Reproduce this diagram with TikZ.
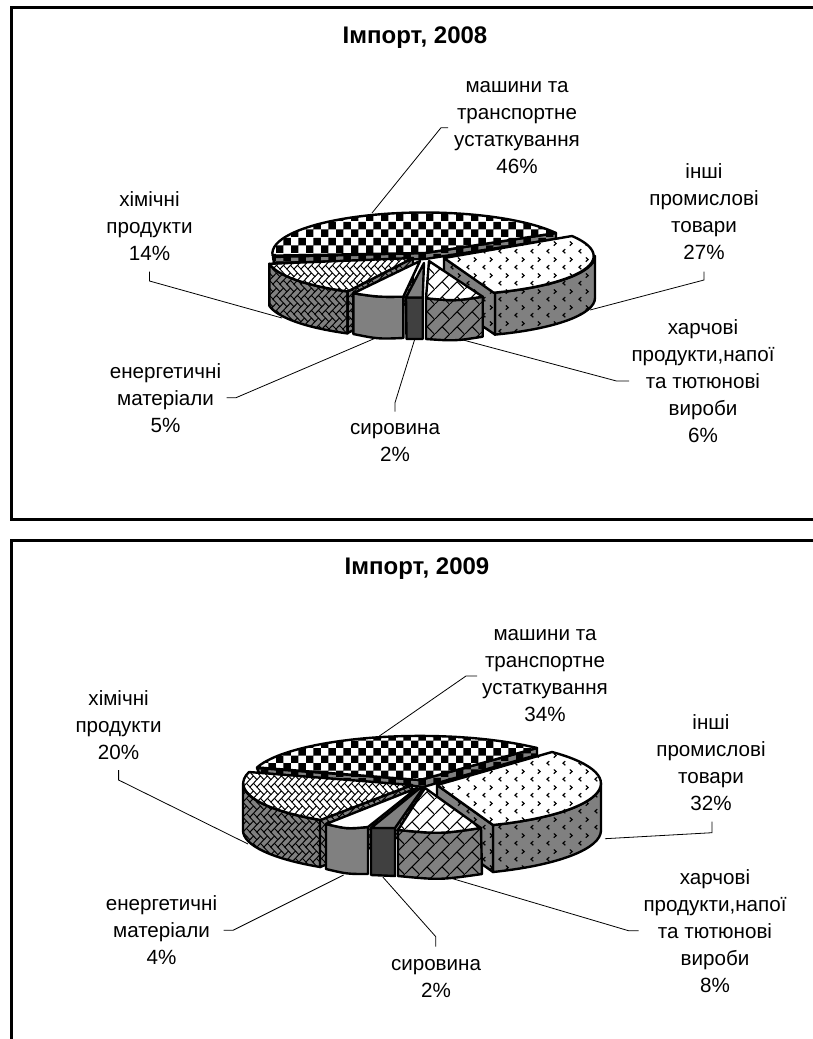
\documentclass[tikz,border=0pt]{standalone}
\usepackage{fontspec}
\setmainfont{Liberation Sans}
\usetikzlibrary{patterns}
\pgfdeclarepatternformonly{chk}{\pgfqpoint{0pt}{0pt}}{\pgfqpoint{15.4pt}{15.4pt}}{\pgfqpoint{15.4pt}{15.4pt}}{%
  \pgfpathrectangle{\pgfqpoint{0pt}{0pt}}{\pgfqpoint{7.7pt}{7.7pt}}%
  \pgfpathrectangle{\pgfqpoint{7.7pt}{7.7pt}}{\pgfqpoint{7.7pt}{7.7pt}}%
  \pgfusepath{fill}}
\pgfdeclarepatternformonly{chev}{\pgfqpoint{0pt}{0pt}}{\pgfqpoint{16pt}{16pt}}{\pgfqpoint{16pt}{16pt}}{%
  \pgfsetlinewidth{1.25pt}%
  \pgfpathmoveto{\pgfqpoint{5.6pt}{6.2pt}}\pgfpathlineto{\pgfqpoint{3.2pt}{4pt}}\pgfpathlineto{\pgfqpoint{5.6pt}{1.8pt}}%
  \pgfpathmoveto{\pgfqpoint{10.4pt}{14.2pt}}\pgfpathlineto{\pgfqpoint{12.8pt}{12pt}}\pgfpathlineto{\pgfqpoint{10.4pt}{9.8pt}}%
  \pgfusepath{stroke}}
\pgfdeclarepatternformonly{brk}{\pgfqpoint{0pt}{0pt}}{\pgfqpoint{15pt}{15pt}}{\pgfqpoint{15pt}{15pt}}{%
  \pgfsetlinewidth{1.1pt}%
  \pgfpathmoveto{\pgfqpoint{-1pt}{-1pt}}\pgfpathlineto{\pgfqpoint{16pt}{16pt}}%
  \pgfpathmoveto{\pgfqpoint{7.5pt}{7.5pt}}\pgfpathlineto{\pgfqpoint{15pt}{0pt}}%
  \pgfusepath{stroke}}
\newcommand\hbseg[4]{\pgfpathmoveto{\pgfpoint{(#1+\hi)*3.7pt}{(#2+\hj)*3.7pt}}\pgfpathlineto{\pgfpoint{(#3+\hi)*3.7pt}{(#4+\hj)*3.7pt}}}
\pgfdeclarepatternformonly{hbone}{\pgfqpoint{0pt}{0pt}}{\pgfqpoint{7.4pt}{14.8pt}}{\pgfqpoint{7.4pt}{14.8pt}}{%
  \pgfsetlinewidth{1pt}%
  \foreach \hi in {-4,-2,0,2}{\foreach \hj in {0,4}{%
    \hbseg{0}{0}{2}{-2}\hbseg{2}{-2}{3}{-1}\hbseg{3}{-1}{1}{1}\hbseg{1}{1}{0}{0}%
    \hbseg{1}{-3}{2}{-4}\hbseg{2}{-4}{4}{-2}\hbseg{4}{-2}{3}{-1}\hbseg{3}{-1}{1}{-3}%
  }}%
  \pgfusepath{stroke}}
\definecolor{wallgray}{HTML}{808080}
\definecolor{walldark}{HTML}{404040}
\tikzset{
  x=1pt,y=-1pt,
  slice/.style={draw=black,line width=2.4pt,line join=round},
  top/.style={slice,preaction={fill=white},pattern=#1,pattern color=black},
  wall/.style={slice,preaction={fill=wallgray},pattern=#1,pattern color=black},
  plain/.style={slice,fill=#1},
  lbl/.style={align=center,inner sep=0pt,font=\fontsize{20.6}{27}\selectfont},
  ttl/.style={align=center,inner sep=0pt,font=\fontsize{24}{28}\selectfont\bfseries},
  leader/.style={draw=black,line width=0.8pt},
  frame/.style={draw=black,line width=3pt}
}
\begin{document}
\begin{tikzpicture}
\useasboundingbox (0,0) rectangle (813,1039);
\fill[white] (0,0) rectangle (813,1039);
\draw[frame] (813,7) -- (11,7) -- (11,519) -- (813,519);
\draw[frame] (813,540) -- (11,540) -- (11,1039);

% ---------- 2008 ----------
\path[wall=chk] (273,257) -- (274,263) -- (425,259) -- (556,239) -- (556,233) -- (425,253) -- cycle;
\path[top=chk] (556,233) arc[start angle=30,end angle=183,x radius=152pt,y radius=41pt] -- (425,253) -- cycle;
% other goods
\path[wall=chev] (495,292.6) arc[start angle=-70,end angle=0,x radius=152pt,y radius=39pt] -- ++(0,42) arc[start angle=0,end angle=-70,x radius=152pt,y radius=39pt] -- cycle;
\path[wall=chev] (444,258) -- (495,292.6) -- (495,334.6) -- (444,300) -- cycle;
\path[top=chev] (572,236) arc[start angle=31,end angle=-70,x radius=152pt,y radius=39pt] -- (444,258) -- cycle;
% chemicals
\path[wall=hbone] (269.3,263.8) arc[start angle=190,end angle=242,x radius=152pt,y radius=39pt] -- ++(0,42) arc[start angle=242,end angle=190,x radius=152pt,y radius=39pt] -- cycle;
\path[wall=hbone] (413,258) -- (347.6,291.4) -- (347.6,333) -- (413,300) -- cycle;
\path[top=hbone] (269.3,263.8) arc[start angle=190,end angle=242,x radius=152pt,y radius=39pt] -- (413,258) -- cycle;
% food
\path[wall=brk] (426,298.3) .. controls (455,301) .. (482.7,296.7) -- (482.7,336.7) .. controls (455,341) .. (426,339) -- cycle;
\path[top=brk] (429,261) -- (482.7,296.7) .. controls (455,301) .. (426,298.3) -- cycle;
% energy
\path[plain=wallgray] (353.3,293.3) .. controls (378,297) .. (403.3,296.7) -- (403.3,338) .. controls (378,339) .. (353.3,334) -- cycle;
\path[plain=white] (420,261) -- (403.3,296.7) .. controls (378,297) .. (353.3,293.3) -- cycle;
% raw
\path[plain=walldark] (406,297.5) -- (422.7,297.5) -- (422.7,339) -- (406.5,339) -- cycle;
\path[plain=wallgray] (424,263) -- (422.7,297.5) -- (406,297.5) -- cycle;

% ---------- 2009 ----------
\path[wall=chk] (257,768) -- (259,773) -- (415,786) -- (423,787) -- (537,755) -- (537,748) -- (420,780) -- cycle;
\path[top=chk] (537,748) arc[start angle=46.5,end angle=163.5,x radius=170pt,y radius=44pt] -- (420,780) -- cycle;
% other goods
\path[wall=chev] (493,825) arc[start angle=-68.6,end angle=0,x radius=170pt,y radius=44.7pt] -- ++(0,47) arc[start angle=0,end angle=-68.6,x radius=170pt,y radius=44.7pt] -- cycle;
\path[wall=chev] (437,785) -- (493,825) -- (493,872) -- (437,832) -- cycle;
\path[top=chev] (552,752) arc[start angle=44.6,end angle=-68.6,x radius=170pt,y radius=44.7pt] -- (437,785) -- cycle;
% chemicals
\path[wall=hbone] (243,783.4) arc[start angle=180,end angle=237,x radius=170pt,y radius=43.7pt] -- ++(0,47) arc[start angle=237,end angle=180,x radius=170pt,y radius=43.7pt] -- cycle;
\path[wall=hbone] (412,785) -- (320,820) -- (320,867) -- (412,832) -- cycle;
\path[top=hbone] (249,772) arc[start angle=165,end angle=237,x radius=170pt,y radius=43.7pt] -- (412,785) -- cycle;
% food
\path[wall=brk] (398,830) .. controls (440,834) .. (481,828) -- (482,874) .. controls (440,880) .. (398,876) -- cycle;
\path[top=brk] (425,788) -- (481,828) .. controls (440,834) .. (398,830) -- cycle;
% energy
\path[plain=wallgray] (326,824) .. controls (347,829) .. (368,827) -- (368,874) .. controls (347,874) .. (326,869) -- cycle;
\path[plain=white] (417,788) -- (368,827) .. controls (347,829) .. (326,824) -- cycle;
% raw
\path[plain=walldark] (371,828) -- (395,828) -- (395,876) -- (371,875) -- cycle;
\path[plain=wallgray] (420,788) -- (423,788) -- (395,828) -- (371,828) -- cycle;

% ---------- labels ----------
\node[ttl] (t8) at (415,38) {Імпорт, 2008};
\node[lbl] (a8) at (517,128) {машини та\\транспортне\\устаткування\\46\%};
\node[lbl] (b8) at (704,212) {інші\\промислові\\товари\\27\%};
\node[lbl] (c8) at (703,381.5) {харчові\\продукти,напої\\та тютюнові\\вироби\\6\%};
\node[lbl] (d8) at (395,443) {сировина\\2\%};
\node[lbl] (e8) at (165.5,398) {енергетичні\\матеріали\\5\%};
\node[lbl] (f8) at (149.5,226) {хімічні\\продукти\\14\%};

\node[ttl] (t9) at (417,569) {Імпорт, 2009};
\node[lbl] (a9) at (545,676) {машини та\\транспортне\\устаткування\\34\%};
\node[lbl] (b9) at (711,763) {інші\\промислові\\товари\\32\%};
\node[lbl] (c9) at (715,931) {харчові\\продукти,напої\\та тютюнові\\вироби\\8\%};
\node[lbl] (d9) at (436,978.5) {сировина\\2\%};
\node[lbl] (e9) at (161.5,930) {енергетичні\\матеріали\\4\%};
\node[lbl] (f9) at (118.6,725) {хімічні\\продукти\\20\%};

% ---------- leaders ----------
\coordinate (a8s) at (448,127.7); \coordinate (a8m) at (441,127.7); \coordinate (a8e) at (372,213);
\coordinate (b8s) at (704,271.7); \coordinate (b8m) at (704,280); \coordinate (b8e) at (590,310);
\coordinate (c8s) at (629,381); \coordinate (c8m) at (616.5,381); \coordinate (c8e) at (459.4,339);
\coordinate (d8s) at (395,411.7); \coordinate (d8m) at (395,402.7); \coordinate (d8e) at (414.5,340);
\coordinate (e8s) at (226.7,397.7); \coordinate (e8m) at (236,397.7); \coordinate (e8e) at (375.7,338);
\coordinate (f8s) at (149.5,271.7); \coordinate (f8m) at (149.5,281); \coordinate (f8e) at (282,318);
\coordinate (a9s) at (477,676); \coordinate (a9m) at (466,676); \coordinate (a9e) at (379.4,736);
\coordinate (b9s) at (712,821.7); \coordinate (b9m) at (712,832.7); \coordinate (b9e) at (605,838.7);
\coordinate (c9s) at (638.6,930.7); \coordinate (c9m) at (628.5,930.7); \coordinate (c9e) at (447,877);
\coordinate (d9s) at (435.8,946.7); \coordinate (d9m) at (435.8,936.7); \coordinate (d9e) at (382.8,877);
\coordinate (e9s) at (223.7,930.3); \coordinate (e9m) at (233,930.3); \coordinate (e9e) at (343.6,875);
\coordinate (f9s) at (118.6,770); \coordinate (f9m) at (118.6,780); \coordinate (f9e) at (248,844);
\foreach \k in {a8,b8,c8,d8,e8,f8,a9,b9,c9,d9,e9,f9}{
  \draw[leader] (\k s) -- (\k m) -- (\k e);
}
\end{tikzpicture}
\end{document}
